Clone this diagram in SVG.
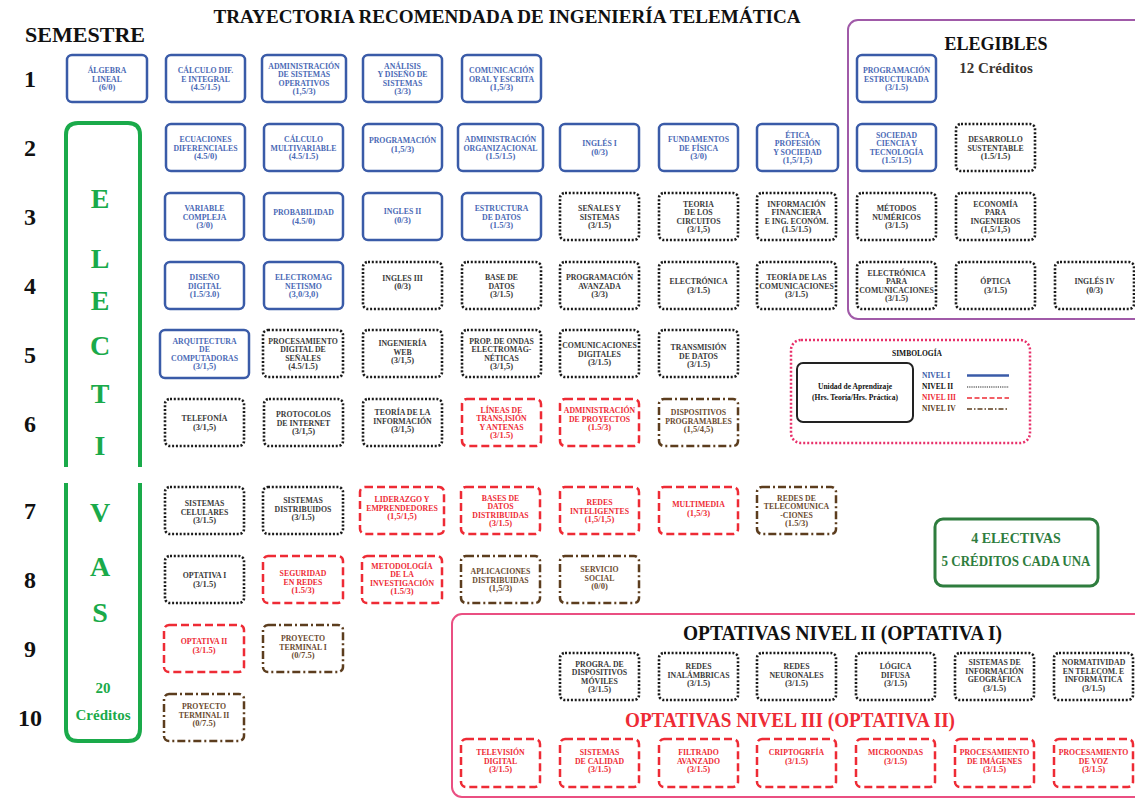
<svg xmlns="http://www.w3.org/2000/svg" width="1135" height="799" viewBox="0 0 1135 799">
<style>
.box{fill:#fff;stroke-width:2.5}
.b{stroke:#3a5ba8}
.k{stroke:#1a1a1a;stroke-dasharray:2 1.8;stroke-width:2.6}
.r{stroke:#ee2b35;stroke-dasharray:8 4}
.n{stroke:#5c3d1e;stroke-dasharray:8 3 2 3}
.t{font-family:"Liberation Serif",serif;font-weight:bold;font-size:7.8px;text-anchor:middle}
.t tspan:last-child{font-size:8.6px}
.tb{fill:#4a69b5}
.tk{fill:#3a3a3a}
.tr{fill:#ee2b35}
.tn{fill:#6b4b30}
.num{font-family:"Liberation Serif",serif;font-weight:bold;font-size:24px;text-anchor:middle;fill:#111}
.el{font-family:"Liberation Serif",serif;font-weight:bold;font-size:28px;text-anchor:middle;fill:#1aaa4a}
.hd{font-family:"Liberation Serif",serif;font-weight:bold}
.leg{font-family:"Liberation Serif",serif;font-weight:bold;font-size:7.5px}
</style>
<rect width="1135" height="799" fill="#fff"/>
<!-- headings -->
<text class="hd" x="507" y="23" font-size="18" fill="#111" text-anchor="middle" textLength="587" lengthAdjust="spacingAndGlyphs">TRAYECTORIA RECOMENDADA  DE INGENIERÍA TELEMÁTICA</text>
<text class="hd" x="85" y="42" font-size="20" fill="#111" text-anchor="middle" textLength="120" lengthAdjust="spacingAndGlyphs">SEMESTRE</text>
<g id="semesters">
<text class="num" x="30" y="87">1</text>
<text class="num" x="30" y="156">2</text>
<text class="num" x="30" y="225">3</text>
<text class="num" x="30" y="294">4</text>
<text class="num" x="30" y="363">5</text>
<text class="num" x="30" y="432">6</text>
<text class="num" x="30" y="519">7</text>
<text class="num" x="30" y="588">8</text>
<text class="num" x="30" y="657">9</text>
<text class="num" x="30" y="726">10</text>
</g>
<!-- frames -->
<g id="elegibles-frame">
<rect x="848" y="20" width="310" height="299" rx="10" fill="none" stroke="#a05aa8" stroke-width="2"/>
<text class="hd" x="996" y="50" font-size="18" fill="#111" text-anchor="middle">ELEGIBLES</text>
<text class="hd" x="996" y="73" font-size="15" fill="#3a3530" text-anchor="middle">12 Créditos</text>
</g>
<g id="electivas-frame">
<path d="M66,467 V135 Q66,123 78,123 H128 Q140,123 140,135 V467" fill="none" stroke="#1aaa4a" stroke-width="4"/>
<path d="M66,483 V729 Q66,741 78,741 H128 Q140,741 140,729 V483" fill="none" stroke="#1aaa4a" stroke-width="4"/>
<text class="el" x="100" y="208">E</text>
<text class="el" x="100" y="268">L</text>
<text class="el" x="100" y="310">E</text>
<text class="el" x="100" y="355">C</text>
<text class="el" x="100" y="403">T</text>
<text class="el" x="100" y="455">I</text>
<text class="el" x="100" y="522">V</text>
<text class="el" x="100" y="576">A</text>
<text class="el" x="100" y="622">S</text>
<text class="hd" x="103" y="693" font-size="15" fill="#1aaa4a" text-anchor="middle">20</text>
<text class="hd" x="103" y="720" font-size="15" fill="#1aaa4a" text-anchor="middle">Créditos</text>
</g>
<g id="optativas-frame">
<rect x="452" y="614" width="710" height="183" rx="10" fill="none" stroke="#ea4f82" stroke-width="2"/>
<text class="hd" x="842.5" y="640" font-size="20" fill="#111" text-anchor="middle" textLength="319" lengthAdjust="spacingAndGlyphs">OPTATIVAS NIVEL II (OPTATIVA I)</text>
<text class="hd" x="790" y="727" font-size="21" fill="#ee2b35" text-anchor="middle" textLength="330" lengthAdjust="spacingAndGlyphs">OPTATIVAS NIVEL III (OPTATIVA II)</text>
</g>
<g id="simbologia">
<rect x="791" y="340" width="239" height="103" rx="10" fill="none" stroke="#e8306a" stroke-width="2.5" stroke-dasharray="2 2"/>
<text class="leg" x="917" y="356" text-anchor="middle" fill="#111">SIMBOLOGÍA</text>
<rect x="797" y="363" width="116" height="59" rx="6" fill="#fff" stroke="#222" stroke-width="2"/>
<text class="leg" x="855" y="389" text-anchor="middle" fill="#111">Unidad de Aprendizaje</text>
<text class="leg" x="855" y="400" text-anchor="middle" fill="#111">(Hrs. Teoría/Hrs. Práctica)</text>
<text class="leg" x="922" y="378" fill="#3a5ba8">NIVEL I</text>
<text class="leg" x="922" y="389" fill="#111">NIVEL II</text>
<text class="leg" x="922" y="400" fill="#ee2b35">NIVEL III</text>
<text class="leg" x="922" y="411" fill="#5c3d1e">NIVEL IV</text>
<line x1="967" y1="375.5" x2="1009" y2="375.5" stroke="#3a5ba8" stroke-width="2.5"/>
<line x1="967" y1="387" x2="1009" y2="387" stroke="#222" stroke-width="1.2" stroke-dasharray="1.2 1"/>
<line x1="967" y1="398" x2="1009" y2="398" stroke="#ee2b35" stroke-width="1.5" stroke-dasharray="5 2.5"/>
<line x1="967" y1="409" x2="1009" y2="409" stroke="#5c3d1e" stroke-width="1.5" stroke-dasharray="5 2 1.5 2"/>
</g>
<g id="electivas-note">
<rect x="935" y="519" width="163" height="67" rx="8" fill="#fff" stroke="#2e7d3e" stroke-width="3"/>
<text class="hd" x="1016" y="543" font-size="14" fill="#2e7d3e" text-anchor="middle">4  ELECTIVAS</text>
<text class="hd" x="1016" y="566" font-size="14" fill="#2e7d3e" text-anchor="middle" textLength="149" lengthAdjust="spacingAndGlyphs">5 CRÉDITOS CADA UNA</text>
</g>
<g id="connectors"></g>
<!-- Row 1 -->
<g id="n-algebra"><rect class="box b" x="67" y="55" width="80" height="47" rx="5"/><text class="t tb" x="107" y="73"><tspan x="107">ÁLGEBRA</tspan><tspan x="107" dy="8.5">LINEAL</tspan><tspan x="107" dy="8.5">(6/0)</tspan></text></g>
<g id="n-calculo-dif"><rect class="box b" x="166" y="55" width="79" height="47" rx="5"/><text class="t tb" x="205.5" y="73"><tspan x="205.5">CÁLCULO DIF.</tspan><tspan x="205.5" dy="8.5">E INTEGRAL</tspan><tspan x="205.5" dy="8.5">(4.5/1.5)</tspan></text></g>
<g id="n-admin-so"><rect class="box b" x="262" y="55" width="84" height="47" rx="5"/><text class="t tb" x="304" y="68.8"><tspan x="304">ADMINISTRACIÓN</tspan><tspan x="304" dy="8.5">DE SISTEMAS</tspan><tspan x="304" dy="8.5">OPERATIVOS</tspan><tspan x="304" dy="8.5">(1,5/3)</tspan></text></g>
<g id="n-analisis"><rect class="box b" x="363" y="55" width="79" height="47" rx="5"/><text class="t tb" x="402.5" y="68.8"><tspan x="402.5">ANÁLISIS</tspan><tspan x="402.5" dy="8.5">Y DISEÑO DE</tspan><tspan x="402.5" dy="8.5">SISTEMAS</tspan><tspan x="402.5" dy="8.5">(3/3)</tspan></text></g>
<g id="n-comunicacion"><rect class="box b" x="462" y="55" width="79" height="47" rx="5"/><text class="t tb" x="501.5" y="73"><tspan x="501.5">COMUNICACIÓN</tspan><tspan x="501.5" dy="8.5">ORAL Y ESCRITA</tspan><tspan x="501.5" dy="8.5">(1,5/3)</tspan></text></g>
<g id="n-prog-estructurada"><rect class="box b" x="857" y="55" width="79" height="47" rx="5"/><text class="t tb" x="896.5" y="73"><tspan x="896.5">PROGRAMACIÓN</tspan><tspan x="896.5" dy="8.5">ESTRUCTURADA</tspan><tspan x="896.5" dy="8.5">(3/1.5)</tspan></text></g>
<!-- Row 2 -->
<g id="n-ecuaciones"><rect class="box b" x="166" y="124" width="79" height="47" rx="5"/><text class="t tb" x="205.5" y="142"><tspan x="205.5">ECUACIONES</tspan><tspan x="205.5" dy="8.5">DIFERENCIALES</tspan><tspan x="205.5" dy="8.5">(4.5/0)</tspan></text></g>
<g id="n-calc-multi"><rect class="box b" x="264" y="124" width="79" height="47" rx="5"/><text class="t tb" x="303.5" y="142"><tspan x="303.5">CÁLCULO</tspan><tspan x="303.5" dy="8.5">MULTIVARIABLE</tspan><tspan x="303.5" dy="8.5">(4.5/1.5)</tspan></text></g>
<g id="n-programacion"><rect class="box b" x="363" y="124" width="79" height="47" rx="5"/><text class="t tb" x="402.5" y="143"><tspan x="402.5">PROGRAMACIÓN</tspan><tspan x="402.5" dy="8.5">(1,5/3)</tspan></text></g>
<g id="n-admin-org"><rect class="box b" x="458" y="124" width="85" height="47" rx="5"/><text class="t tb" x="500.5" y="142"><tspan x="500.5">ADMINISTRACIÓN</tspan><tspan x="500.5" dy="8.5">ORGANIZACIONAL</tspan><tspan x="500.5" dy="8.5">(1.5/1.5)</tspan></text></g>
<g id="n-ingles1"><rect class="box b" x="560" y="124" width="79" height="47" rx="5"/><text class="t tb" x="599.5" y="146"><tspan x="599.5">INGLÉS I</tspan><tspan x="599.5" dy="8.5">(0/3)</tspan></text></g>
<g id="n-fundamentos"><rect class="box b" x="659" y="124" width="79" height="47" rx="5"/><text class="t tb" x="698.5" y="142"><tspan x="698.5">FUNDAMENTOS</tspan><tspan x="698.5" dy="8.5">DE FÍSICA</tspan><tspan x="698.5" dy="8.5">(3/0)</tspan></text></g>
<g id="n-etica"><rect class="box b" x="757" y="124" width="81" height="47" rx="5"/><text class="t tb" x="797.5" y="137.8"><tspan x="797.5">ÉTICA</tspan><tspan x="797.5" dy="8.5">PROFESIÓN</tspan><tspan x="797.5" dy="8.5">Y SOCIEDAD</tspan><tspan x="797.5" dy="8.5">(1,5/1,5)</tspan></text></g>
<g id="n-sociedad"><rect class="box b" x="857" y="124" width="79" height="47" rx="5"/><text class="t tb" x="896.5" y="137.8"><tspan x="896.5">SOCIEDAD</tspan><tspan x="896.5" dy="8.5">CIENCIA Y</tspan><tspan x="896.5" dy="8.5">TECNOLOGÍA</tspan><tspan x="896.5" dy="8.5">(1.5/1.5)</tspan></text></g>
<g id="n-desarrollo"><rect class="box k" x="956" y="124" width="79" height="47" rx="5"/><text class="t tk" x="995.5" y="142"><tspan x="995.5">DESARROLLO</tspan><tspan x="995.5" dy="8.5">SUSTENTABLE</tspan><tspan x="995.5" dy="8.5">(1.5/1.5)</tspan></text></g>
<!-- Row 3 -->
<g id="n-variable"><rect class="box b" x="165" y="193" width="79" height="47" rx="5"/><text class="t tb" x="204.5" y="211"><tspan x="204.5">VARIABLE</tspan><tspan x="204.5" dy="8.5">COMPLEJA</tspan><tspan x="204.5" dy="8.5">(3/0)</tspan></text></g>
<g id="n-probabilidad"><rect class="box b" x="264" y="193" width="79" height="47" rx="5"/><text class="t tb" x="303.5" y="215"><tspan x="303.5">PROBABILIDAD</tspan><tspan x="303.5" dy="8.5">(4.5/0)</tspan></text></g>
<g id="n-ingles2"><rect class="box b" x="363" y="193" width="79" height="47" rx="5"/><text class="t tb" x="402.5" y="214"><tspan x="402.5">INGLES II</tspan><tspan x="402.5" dy="8.5">(0/3)</tspan></text></g>
<g id="n-estructura"><rect class="box b" x="462" y="193" width="79" height="47" rx="5"/><text class="t tb" x="501.5" y="211"><tspan x="501.5">ESTRUCTURA</tspan><tspan x="501.5" dy="8.5">DE DATOS</tspan><tspan x="501.5" dy="8.5">(1.5/3)</tspan></text></g>
<g id="n-senales"><rect class="box k" x="560" y="193" width="79" height="47" rx="5"/><text class="t tk" x="599.5" y="211"><tspan x="599.5">SEÑALES Y</tspan><tspan x="599.5" dy="8.5">SISTEMAS</tspan><tspan x="599.5" dy="8.5">(3/1.5)</tspan></text></g>
<g id="n-teoria-circuitos"><rect class="box k" x="659" y="193" width="79" height="47" rx="5"/><text class="t tk" x="698.5" y="206.8"><tspan x="698.5">TEORIA</tspan><tspan x="698.5" dy="8.5">DE LOS</tspan><tspan x="698.5" dy="8.5">CIRCUITOS</tspan><tspan x="698.5" dy="8.5">(3/1,5)</tspan></text></g>
<g id="n-info-financiera"><rect class="box k" x="757" y="193" width="79" height="47" rx="5"/><text class="t tk" x="796.5" y="206.8"><tspan x="796.5">INFORMACIÓN</tspan><tspan x="796.5" dy="8.5">FINANCIERA</tspan><tspan x="796.5" dy="8.5">E ING. ECONÓM.</tspan><tspan x="796.5" dy="8.5">(1.5/1.5)</tspan></text></g>
<g id="n-metodos"><rect class="box k" x="857" y="193" width="79" height="47" rx="5"/><text class="t tk" x="896.5" y="211"><tspan x="896.5">MÉTODOS</tspan><tspan x="896.5" dy="8.5">NUMÉRICOS</tspan><tspan x="896.5" dy="8.5">(3/1.5)</tspan></text></g>
<g id="n-economia"><rect class="box k" x="956" y="193" width="79" height="47" rx="5"/><text class="t tk" x="995.5" y="206.8"><tspan x="995.5">ECONOMÍA</tspan><tspan x="995.5" dy="8.5">PARA</tspan><tspan x="995.5" dy="8.5">INGENIEROS</tspan><tspan x="995.5" dy="8.5">(1,5/1,5)</tspan></text></g>
<!-- Row 4 -->
<g id="n-diseno"><rect class="box b" x="165" y="262" width="79" height="47" rx="5"/><text class="t tb" x="204.5" y="280"><tspan x="204.5">DISEÑO</tspan><tspan x="204.5" dy="8.5">DIGITAL</tspan><tspan x="204.5" dy="8.5">(1.5/3.0)</tspan></text></g>
<g id="n-electromag"><rect class="box b" x="264" y="262" width="79" height="47" rx="5"/><text class="t tb" x="303.5" y="280"><tspan x="303.5">ELECTROMAG</tspan><tspan x="303.5" dy="8.5">NETISMO</tspan><tspan x="303.5" dy="8.5">(3,0/3,0)</tspan></text></g>
<g id="n-ingles3"><rect class="box k" x="363" y="262" width="79" height="47" rx="5"/><text class="t tk" x="402.5" y="280.5"><tspan x="402.5">INGLES III</tspan><tspan x="402.5" dy="8.5">(0/3)</tspan></text></g>
<g id="n-base-datos"><rect class="box k" x="462" y="262" width="79" height="47" rx="5"/><text class="t tk" x="501.5" y="280"><tspan x="501.5">BASE DE</tspan><tspan x="501.5" dy="8.5">DATOS</tspan><tspan x="501.5" dy="8.5">(3/1.5)</tspan></text></g>
<g id="n-prog-avanzada"><rect class="box k" x="560" y="262" width="79" height="47" rx="5"/><text class="t tk" x="599.5" y="280"><tspan x="599.5">PROGRAMACIÓN</tspan><tspan x="599.5" dy="8.5">AVANZADA</tspan><tspan x="599.5" dy="8.5">(3/3)</tspan></text></g>
<g id="n-electronica"><rect class="box k" x="659" y="262" width="79" height="47" rx="5"/><text class="t tk" x="698.5" y="284.3"><tspan x="698.5">ELECTRÓNICA</tspan><tspan x="698.5" dy="8.5">(3/1.5)</tspan></text></g>
<g id="n-teoria-com"><rect class="box k" x="757" y="262" width="79" height="47" rx="5"/><text class="t tk" x="796.5" y="280"><tspan x="796.5">TEORÍA DE LAS</tspan><tspan x="796.5" dy="8.5">COMUNICACIONES</tspan><tspan x="796.5" dy="8.5">(3/1.5)</tspan></text></g>
<g id="n-electronica-com"><rect class="box k" x="857" y="262" width="79" height="47" rx="5"/><text class="t tk" x="896.5" y="275.8"><tspan x="896.5">ELECTRÓNICA</tspan><tspan x="896.5" dy="8.5">PARA</tspan><tspan x="896.5" dy="8.5">COMUNICACIONES</tspan><tspan x="896.5" dy="8.5">(3/1.5)</tspan></text></g>
<g id="n-optica"><rect class="box k" x="956" y="262" width="79" height="47" rx="5"/><text class="t tk" x="995.5" y="284.3"><tspan x="995.5">ÓPTICA</tspan><tspan x="995.5" dy="8.5">(3/1.5)</tspan></text></g>
<g id="n-ingles4"><rect class="box k" x="1055" y="262" width="79" height="47" rx="5"/><text class="t tk" x="1094.5" y="284.3"><tspan x="1094.5">INGLÉS IV</tspan><tspan x="1094.5" dy="8.5">(0/3)</tspan></text></g>
<!-- Row 5 -->
<g id="n-arquitectura"><rect class="box b" x="160" y="330" width="89" height="48" rx="5"/><text class="t tb" x="204.5" y="343.8"><tspan x="204.5">ARQUITECTURA</tspan><tspan x="204.5" dy="8.5">DE</tspan><tspan x="204.5" dy="8.5">COMPUTADORAS</tspan><tspan x="204.5" dy="8.5">(3/1,5)</tspan></text></g>
<g id="n-pds"><rect class="box k" x="263" y="330" width="80" height="47" rx="5"/><text class="t tk" x="303" y="343.8"><tspan x="303">PROCESAMIENTO</tspan><tspan x="303" dy="8.5">DIGITAL DE</tspan><tspan x="303" dy="8.5">SEÑALES</tspan><tspan x="303" dy="8.5">(4.5/1.5)</tspan></text></g>
<g id="n-ing-web"><rect class="box k" x="363" y="330" width="79" height="47" rx="5"/><text class="t tk" x="402.5" y="346"><tspan x="402.5">INGENIERÍA</tspan><tspan x="402.5" dy="8.5">WEB</tspan><tspan x="402.5" dy="8.5">(3/1,5)</tspan></text></g>
<g id="n-prop-ondas"><rect class="box k" x="462" y="330" width="79" height="47" rx="5"/><text class="t tk" x="501.5" y="343.8"><tspan x="501.5">PROP. DE ONDAS</tspan><tspan x="501.5" dy="8.5">ELECTROMAG-</tspan><tspan x="501.5" dy="8.5">NÉTICAS</tspan><tspan x="501.5" dy="8.5">(3/1,5)</tspan></text></g>
<g id="n-com-digitales"><rect class="box k" x="560" y="330" width="79" height="47" rx="5"/><text class="t tk" x="599.5" y="348"><tspan x="599.5">COMUNICACIONES</tspan><tspan x="599.5" dy="8.5">DIGITALES</tspan><tspan x="599.5" dy="8.5">(3/1.5)</tspan></text></g>
<g id="n-transmision"><rect class="box k" x="659" y="330" width="79" height="47" rx="5"/><text class="t tk" x="698.5" y="350"><tspan x="698.5">TRANSMISIÓN</tspan><tspan x="698.5" dy="8.5">DE DATOS</tspan><tspan x="698.5" dy="8.5">(3/1.5)</tspan></text></g>
<!-- Row 6 -->
<g id="n-telefonia"><rect class="box k" x="165" y="399" width="79" height="47" rx="5"/><text class="t tk" x="204.5" y="421.3"><tspan x="204.5">TELEFONÍA</tspan><tspan x="204.5" dy="8.5">(3/1,5)</tspan></text></g>
<g id="n-protocolos"><rect class="box k" x="264" y="399" width="79" height="47" rx="5"/><text class="t tk" x="303.5" y="417"><tspan x="303.5">PROTOCOLOS</tspan><tspan x="303.5" dy="8.5">DE INTERNET</tspan><tspan x="303.5" dy="8.5">(3/1,5)</tspan></text></g>
<g id="n-teoria-info"><rect class="box k" x="363" y="399" width="79" height="47" rx="5"/><text class="t tk" x="402.5" y="415"><tspan x="402.5">TEORÍA DE LA</tspan><tspan x="402.5" dy="8.5">INFORMACIÓN</tspan><tspan x="402.5" dy="8.5">(3/1,5)</tspan></text></g>
<g id="n-lineas"><rect class="box r" x="462" y="399" width="79" height="47" rx="5"/><text class="t tr" x="501.5" y="412.8"><tspan x="501.5">LÍNEAS DE</tspan><tspan x="501.5" dy="8.5">TRANS,ISIÓN</tspan><tspan x="501.5" dy="8.5">Y ANTENAS</tspan><tspan x="501.5" dy="8.5">(3/1.5)</tspan></text></g>
<g id="n-admin-proy"><rect class="box r" x="560" y="399" width="79" height="47" rx="5"/><text class="t tr" x="599.5" y="413"><tspan x="599.5">ADMINISTRACIÓN</tspan><tspan x="599.5" dy="8.5">DE PROYECTOS</tspan><tspan x="599.5" dy="8.5">(1.5/3)</tspan></text></g>
<g id="n-dispositivos"><rect class="box n" x="659" y="399" width="79" height="47" rx="5"/><text class="t tn" x="698.5" y="415"><tspan x="698.5">DISPOSITIVOS</tspan><tspan x="698.5" dy="8.5">PROGRAMABLES</tspan><tspan x="698.5" dy="8.5">(1,5/4,5)</tspan></text></g>
<!-- Row 7 -->
<g id="n-sist-celulares"><rect class="box k" x="165" y="487" width="79" height="47" rx="5"/><text class="t tk" x="204.5" y="506"><tspan x="204.5">SISTEMAS</tspan><tspan x="204.5" dy="8.5">CELULARES</tspan><tspan x="204.5" dy="8.5">(3/1.5)</tspan></text></g>
<g id="n-sist-distribuidos"><rect class="box k" x="263" y="487" width="80" height="47" rx="5"/><text class="t tk" x="303" y="503"><tspan x="303">SISTEMAS</tspan><tspan x="303" dy="8.5">DISTRIBUIDOS</tspan><tspan x="303" dy="8.5">(3/1.5)</tspan></text></g>
<g id="n-liderazgo"><rect class="box r" x="360" y="487" width="84" height="47" rx="5"/><text class="t tr" x="402" y="502"><tspan x="402">LIDERAZGO Y</tspan><tspan x="402" dy="8.5">EMPRENDEDORES</tspan><tspan x="402" dy="8.5">(1,5/1,5)</tspan></text></g>
<g id="n-bd-distribuidas"><rect class="box r" x="461" y="487" width="79" height="47" rx="5"/><text class="t tr" x="500.5" y="500.8"><tspan x="500.5">BASES DE</tspan><tspan x="500.5" dy="8.5">DATOS</tspan><tspan x="500.5" dy="8.5">DISTRIBUIDAS</tspan><tspan x="500.5" dy="8.5">(3/1.5)</tspan></text></g>
<g id="n-redes-inteligentes"><rect class="box r" x="560" y="487" width="79" height="47" rx="5"/><text class="t tr" x="599.5" y="505"><tspan x="599.5">REDES</tspan><tspan x="599.5" dy="8.5">INTELIGENTES</tspan><tspan x="599.5" dy="8.5">(1,5/1,5)</tspan></text></g>
<g id="n-multimedia"><rect class="box r" x="659" y="487" width="79" height="47" rx="5"/><text class="t tr" x="698.5" y="507"><tspan x="698.5">MULTIMEDIA</tspan><tspan x="698.5" dy="8.5">(1,5/3)</tspan></text></g>
<g id="n-redes-telecom"><rect class="box n" x="757" y="487" width="79" height="47" rx="5"/><text class="t tn" x="796.5" y="500.8"><tspan x="796.5">REDES DE</tspan><tspan x="796.5" dy="8.5">TELECOMUNICA</tspan><tspan x="796.5" dy="8.5">-CIONES</tspan><tspan x="796.5" dy="8.5">(1.5/3)</tspan></text></g>
<!-- Row 8 -->
<g id="n-optativa1"><rect class="box k" x="165" y="556" width="79" height="47" rx="5"/><text class="t tk" x="204.5" y="578.3"><tspan x="204.5">OPTATIVA I</tspan><tspan x="204.5" dy="8.5">(3/1.5)</tspan></text></g>
<g id="n-seguridad"><rect class="box r" x="263" y="556" width="80" height="47" rx="5"/><text class="t tr" x="303" y="576"><tspan x="303">SEGURIDAD</tspan><tspan x="303" dy="8.5">EN REDES</tspan><tspan x="303" dy="8.5">(1.5/3)</tspan></text></g>
<g id="n-metodologia"><rect class="box r" x="362" y="556" width="80" height="47" rx="5"/><text class="t tr" x="402" y="568.8"><tspan x="402">METODOLOGÍA</tspan><tspan x="402" dy="8.5">DE LA</tspan><tspan x="402" dy="8.5">INVESTIGACIÓN</tspan><tspan x="402" dy="8.5">(1.5/3)</tspan></text></g>
<g id="n-aplicaciones"><rect class="box n" x="461" y="556" width="79" height="47" rx="5"/><text class="t tn" x="500.5" y="574"><tspan x="500.5">APLICACIONES</tspan><tspan x="500.5" dy="8.5">DISTRIBUIDAS</tspan><tspan x="500.5" dy="8.5">(1,5/3)</tspan></text></g>
<g id="n-servicio"><rect class="box n" x="560" y="556" width="79" height="47" rx="5"/><text class="t tn" x="599.5" y="572"><tspan x="599.5">SERVICIO</tspan><tspan x="599.5" dy="8.5">SOCIAL</tspan><tspan x="599.5" dy="8.5">(0/0)</tspan></text></g>
<!-- Row 9-10 -->
<g id="n-optativa2"><rect class="box r" x="164" y="625" width="80" height="47" rx="5"/><text class="t tr" x="204" y="644"><tspan x="204">OPTATIVA II</tspan><tspan x="204" dy="8.5">(3/1.5)</tspan></text></g>
<g id="n-pt1"><rect class="box n" x="263" y="625" width="80" height="47" rx="5"/><text class="t tn" x="303" y="641"><tspan x="303">PROYECTO</tspan><tspan x="303" dy="8.5">TERMINAL I</tspan><tspan x="303" dy="8.5">(0/7.5)</tspan></text></g>
<g id="n-pt2"><rect class="box n" x="164" y="694" width="80" height="47" rx="5"/><text class="t tn" x="204" y="709"><tspan x="204">PROYECTO</tspan><tspan x="204" dy="8.5">TERMINAL II</tspan><tspan x="204" dy="8.5">(0/7.5)</tspan></text></g>
<!-- Optativas nivel II -->
<g id="n-opt-moviles"><rect class="box k" x="560" y="653" width="79" height="47" rx="5"/><text class="t tk" x="599.5" y="666.8"><tspan x="599.5">PROGRA.  DE</tspan><tspan x="599.5" dy="8.5">DISPOSITIVOS</tspan><tspan x="599.5" dy="8.5">MÓVILES</tspan><tspan x="599.5" dy="8.5">(3/1.5)</tspan></text></g>
<g id="n-opt-inalambricas"><rect class="box k" x="659" y="653" width="79" height="47" rx="5"/><text class="t tk" x="698.5" y="669"><tspan x="698.5">REDES</tspan><tspan x="698.5" dy="8.5">INALÁMBRICAS</tspan><tspan x="698.5" dy="8.5">(3/1.5)</tspan></text></g>
<g id="n-opt-neuronales"><rect class="box k" x="757" y="653" width="79" height="47" rx="5"/><text class="t tk" x="796.5" y="669"><tspan x="796.5">REDES</tspan><tspan x="796.5" dy="8.5">NEURONALES</tspan><tspan x="796.5" dy="8.5">(3/1.5)</tspan></text></g>
<g id="n-opt-logica"><rect class="box k" x="856" y="653" width="79" height="47" rx="5"/><text class="t tk" x="895.5" y="669"><tspan x="895.5">LÓGICA</tspan><tspan x="895.5" dy="8.5">DIFUSA</tspan><tspan x="895.5" dy="8.5">(3/1.5)</tspan></text></g>
<g id="n-opt-sig"><rect class="box k" x="955" y="653" width="79" height="47" rx="5"/><text class="t tk" x="994.5" y="665"><tspan x="994.5">SISTEMAS DE</tspan><tspan x="994.5" dy="8.5">INFORMACIÓN</tspan><tspan x="994.5" dy="8.5">GEOGRÁFICA</tspan><tspan x="994.5" dy="8.5">(3/1.5)</tspan></text></g>
<g id="n-opt-normatividad"><rect class="box k" x="1054" y="653" width="79" height="47" rx="5"/><text class="t tk" x="1093.5" y="665"><tspan x="1093.5">NORMATIVIDAD</tspan><tspan x="1093.5" dy="8.5">EN TELECOM. E</tspan><tspan x="1093.5" dy="8.5">INFORMÁTICA</tspan><tspan x="1093.5" dy="8.5">(3/1.5)</tspan></text></g>
<!-- Optativas nivel III -->
<g id="n-opt-television"><rect class="box r" x="461" y="739" width="79" height="48" rx="5"/><text class="t tr" x="500.5" y="755"><tspan x="500.5">TELEVISIÓN</tspan><tspan x="500.5" dy="8.5">DIGITAL</tspan><tspan x="500.5" dy="8.5">(3/1.5)</tspan></text></g>
<g id="n-opt-calidad"><rect class="box r" x="560" y="739" width="79" height="48" rx="5"/><text class="t tr" x="599.5" y="755"><tspan x="599.5">SISTEMAS</tspan><tspan x="599.5" dy="8.5">DE CALIDAD</tspan><tspan x="599.5" dy="8.5">(3/1.5)</tspan></text></g>
<g id="n-opt-filtrado"><rect class="box r" x="659" y="739" width="79" height="48" rx="5"/><text class="t tr" x="698.5" y="755"><tspan x="698.5">FILTRADO</tspan><tspan x="698.5" dy="8.5">AVANZADO</tspan><tspan x="698.5" dy="8.5">(3/1.5)</tspan></text></g>
<g id="n-opt-cripto"><rect class="box r" x="757" y="739" width="79" height="48" rx="5"/><text class="t tr" x="796.5" y="755"><tspan x="796.5">CRIPTOGRFÍA</tspan><tspan x="796.5" dy="8.5">(3/1.5)</tspan></text></g>
<g id="n-opt-microondas"><rect class="box r" x="856" y="739" width="79" height="48" rx="5"/><text class="t tr" x="895.5" y="755"><tspan x="895.5">MICROONDAS</tspan><tspan x="895.5" dy="8.5">(3/1.5)</tspan></text></g>
<g id="n-opt-imagenes"><rect class="box r" x="955" y="739" width="79" height="48" rx="5"/><text class="t tr" x="994.5" y="755"><tspan x="994.5">PROCESAMIENTO</tspan><tspan x="994.5" dy="8.5">DE IMÁGENES</tspan><tspan x="994.5" dy="8.5">(3/1.5)</tspan></text></g>
<g id="n-opt-voz"><rect class="box r" x="1054" y="739" width="79" height="48" rx="5"/><text class="t tr" x="1093.5" y="755"><tspan x="1093.5">PROCESAMIENTO</tspan><tspan x="1093.5" dy="8.5">DE VOZ</tspan><tspan x="1093.5" dy="8.5">(3/1.5)</tspan></text></g>
</svg>
